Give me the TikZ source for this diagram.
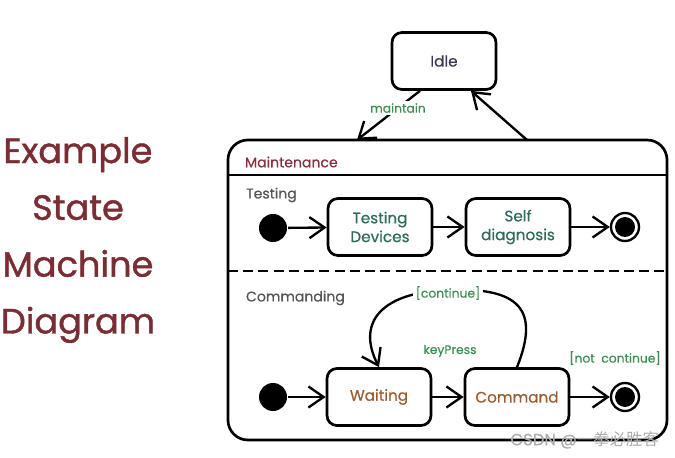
\documentclass[tikz,border=0pt]{standalone}
\usepackage{fontspec}
\setmainfont{Poppins}[UprightFeatures={FakeBold=0.5}]
\newfontfamily\titlefont{Poppins}[FakeBold=1.2]
\newfontfamily\cjk{Noto Sans CJK SC}
\usetikzlibrary{arrows.meta}
\definecolor{titlered}{HTML}{7B2D35}
\definecolor{maintred}{HTML}{8A2E3E}
\definecolor{labelgray}{HTML}{555555}
\definecolor{idleblue}{HTML}{3A3A55}
\definecolor{testgreen}{HTML}{2F6B5B}
\definecolor{waitbrown}{HTML}{9A5B2E}
\definecolor{guardgreen}{HTML}{3F8F55}

\begin{document}
\begin{tikzpicture}[x=0.03cm,y=-0.03cm,line width=2pt,
  >={Straight Barb[length=13pt,width=18pt]},
  state/.style={draw,rounded corners=8.5pt,minimum width=3.12cm,minimum height=1.71cm,
    align=center,font=\fontsize{13}{16}\selectfont,line width=2.3pt},
  start/.style={circle,fill,minimum size=0.84cm,inner sep=0pt},
  stop/.style={circle,draw,minimum size=0.84cm,inner sep=0pt,
    path picture={\fill (path picture bounding box.center) circle (0.3cm);}},
  region/.style={anchor=west,text=labelgray,font=\fontsize{12}{14}\selectfont},
  guard/.style={text=guardgreen,font=\fontsize{10.5}{12}\selectfont,inner sep=2pt}]
\useasboundingbox (0,0) rectangle (675,458);
%
\node[text=titlered,align=center,font=\titlefont\fontsize{30}{48.5}\selectfont] (title) at (78,240)
  {Example\\State\\Machine\\Diagram};
%
\node[state,text=idleblue] (idle) at (444,61) {Idle};
\node[draw,rounded corners=17pt,minimum width=13.17cm,minimum height=9cm,line width=2.3pt]
  (maint) at (447.5,290) {};
\node[anchor=west,text=maintred,font=\fontsize{12}{14}\selectfont] (maintlbl) at (240,162) {Maintenance};
\draw[line width=2.3pt] (228,175) -- (667,175);
\draw[line width=2.3pt,dash pattern=on 8.5pt off 4.5pt] (228,271) -- (667,271);
%
\coordinate (mIn)  at (357,140);
\coordinate (mOut) at (527,140);
\draw[->] ([xshift=-0.72cm]idle.south) -- (mIn) node[guard,fill=white,pos=0.35]{maintain};
\draw[->] (mOut) -- ([xshift=0.81cm]idle.south);
%
% testing
\node[region] (testing) at (241,195) {Testing};
\node[start] (t0) at (273,228) {};
\node[state,text=testgreen] (tdev) at (380,227) {Testing\\Devices};
\node[state,text=testgreen] (self) at (518,227) {Self\\diagnosis};
\node[stop] (t1) at (625,227) {};
\draw[->] (t0) -- (tdev);
\draw[->] (tdev) -- (self);
\draw[->] (self) -- (t1);
%
% commanding
\node[region] (commanding) at (241,298) {Commanding};
\node[start] (c0) at (273,397) {};
\node[state,text=waitbrown] (wait) at (379,397) {Waiting};
\node[state,text=waitbrown] (cmd) at (517,397) {Command};
\node[stop] (c1) at (625,397) {};
\draw[->] (c0) -- (wait);
\draw[->] (wait) -- (cmd);
\draw[->] (cmd) -- (c1);
\draw[->] (cmd.north) .. controls (540,310) and (520,287) .. (448,290)
  .. controls (385,292) and (355,320) .. (wait.north);
\node[guard,fill=white] (cont) at (448,293) {[continue]};
\node[guard] (key) at (450,351) {keyPress};
\node[guard] (notcont) at (615,358) {[not\ \ continue]};
%
\node[text=gray!65,anchor=east,font=\fontsize{14}{14}\selectfont] (mark) at (664,440)
  {CSDN @{\cjk 一拳必胜客}};
\end{tikzpicture}
\end{document}
